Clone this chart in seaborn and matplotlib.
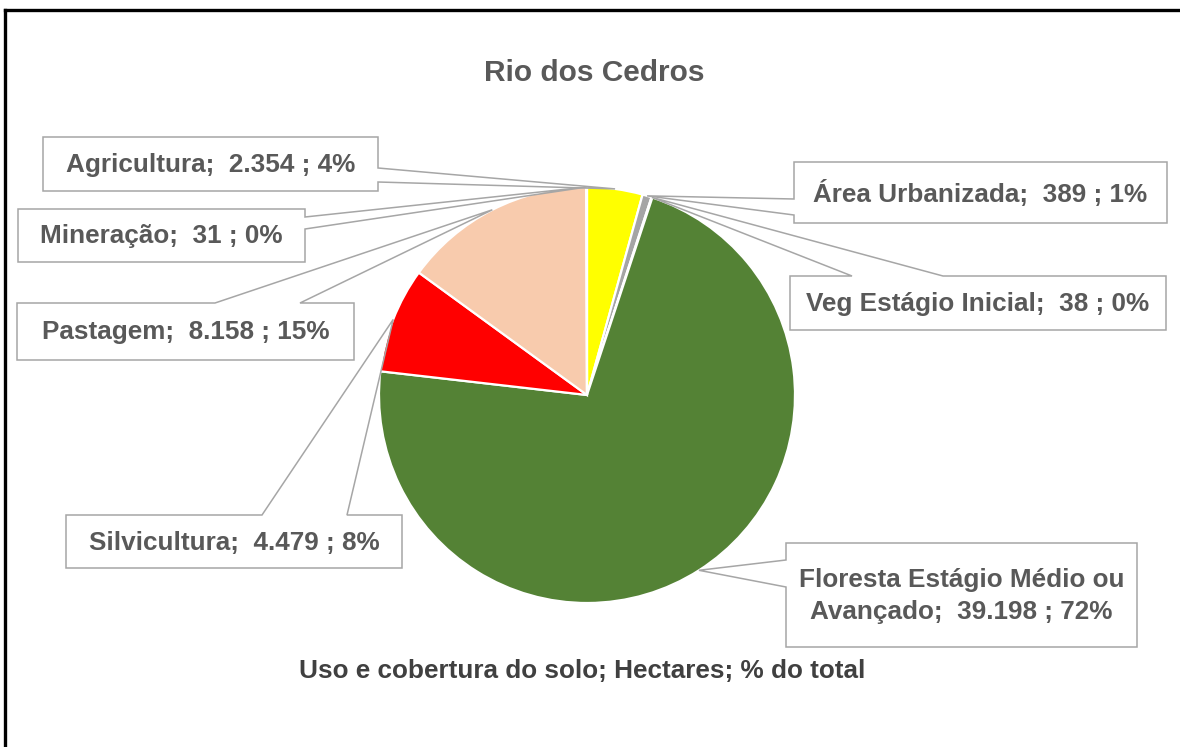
import matplotlib
matplotlib.use("Agg")
import matplotlib.pyplot as plt
from matplotlib.patches import Polygon
from matplotlib import font_manager
import numpy as np
import seaborn as sns

# Land use / land cover, Rio dos Cedros (hectares)
categories = [
    "Agricultura",
    "Área Urbanizada",
    "Veg Estágio Inicial",
    "Floresta Estágio Médio ou\nAvançado",
    "Silvicultura",
    "Pastagem",
    "Mineração",
]
hectares = [2354, 389, 38, 39198, 4479, 8158, 31]
colors = ["#FFFF00", "#A5A5A5", "#A9D18E", "#548235", "#FF0000", "#F8CBAD", "#7F6000"]

title = "Rio dos Cedros"
subtitle = "Uso e cobertura do solo; Hectares; % do total"

# Callout boxes in pixel space: (x0, y0, x1, y1), side carrying the pointer, pointer base
callouts = [
    ((43, 137, 378, 191), "right", (168, 182)),
    ((794, 162, 1167, 223), "left", (199, 215)),
    ((790, 276, 1166, 330), "top", (852, 943)),
    ((786, 543, 1137, 647), "left", (560, 587)),
    ((66, 515, 402, 568), "top", (262, 347)),
    ((17, 303, 354, 360), "top", (215, 300)),
    ((18, 209, 305, 262), "right", (217, 229)),
]

sns.set_theme(style="white")
plt.rcParams["font.family"] = ["Liberation Sans", "DejaVu Sans"]

names = {f.name for f in font_manager.fontManager.ttflist}
title_family = ["Liberation Sans Narrow"] if "Liberation Sans Narrow" in names else ["Liberation Sans"]
title_size = 26 if "Liberation Sans Narrow" in names else 21.5

W, H = 1180, 747
fig = plt.figure(figsize=(W / 100, H / 100), dpi=100)
ax = fig.add_axes([0, 0, 1, 1])

cx, cy, r = 587, 395, 208
wedges, _ = ax.pie(
    hectares,
    colors=colors,
    startangle=-90,
    counterclock=True,
    center=(cx, cy),
    radius=r,
    wedgeprops=dict(edgecolor="white", linewidth=1.6),
    normalize=True,
)
for w in wedges:
    w.set_zorder(2)

ax.set_xlim(0, W)
ax.set_ylim(H, 0)
ax.set_aspect("auto")
ax.axis("off")

total = sum(hectares)
text_color = "#595959"
edge_color = "#A6A6A6"

for name, val, w, (box, side, base) in zip(categories, hectares, wedges, callouts):
    mid = np.deg2rad((w.theta1 + w.theta2) / 2)
    anchor = (cx + r * np.cos(mid), cy + r * np.sin(mid))
    x0, y0, x1, y1 = box
    a, b = base
    if side == "top":
        verts = [(x0, y0), (a, y0), anchor, (b, y0), (x1, y0), (x1, y1), (x0, y1)]
    elif side == "right":
        verts = [(x0, y0), (x1, y0), (x1, a), anchor, (x1, b), (x1, y1), (x0, y1)]
    else:
        verts = [(x0, y0), (x1, y0), (x1, y1), (x0, y1), (x0, b), anchor, (x0, a)]
    ax.add_patch(Polygon(verts, closed=True, facecolor="white", edgecolor="none", zorder=1))
    ax.add_patch(Polygon(verts, closed=True, facecolor="none", edgecolor=edge_color,
                         linewidth=1.1, zorder=3))
    pct = round(val / total * 100)
    label = f"{name};  {val:,} ; {pct}%".replace(",", ".")
    ax.text((x0 + x1) / 2, (y0 + y1) / 2 + 1, label, ha="center", va="center",
            fontsize=18.8, fontweight="bold", color=text_color, linespacing=1.45, zorder=4)

ax.text(594, 73, title, ha="center", va="center", fontsize=title_size,
        fontweight="bold", color=text_color, family=title_family)
ax.text(582, 671, subtitle, ha="center", va="center", fontsize=18.8,
        fontweight="bold", color="#404040")

# Outer frame (top and left edges fall inside the canvas)
ax.plot([5, 5], [H + 5, 10], color="black", linewidth=2.4, solid_capstyle="projecting", zorder=5)
ax.plot([5, W + 5], [10, 10], color="black", linewidth=2.4, solid_capstyle="projecting", zorder=5)

fig.savefig("out.png", dpi=100, facecolor="white")
